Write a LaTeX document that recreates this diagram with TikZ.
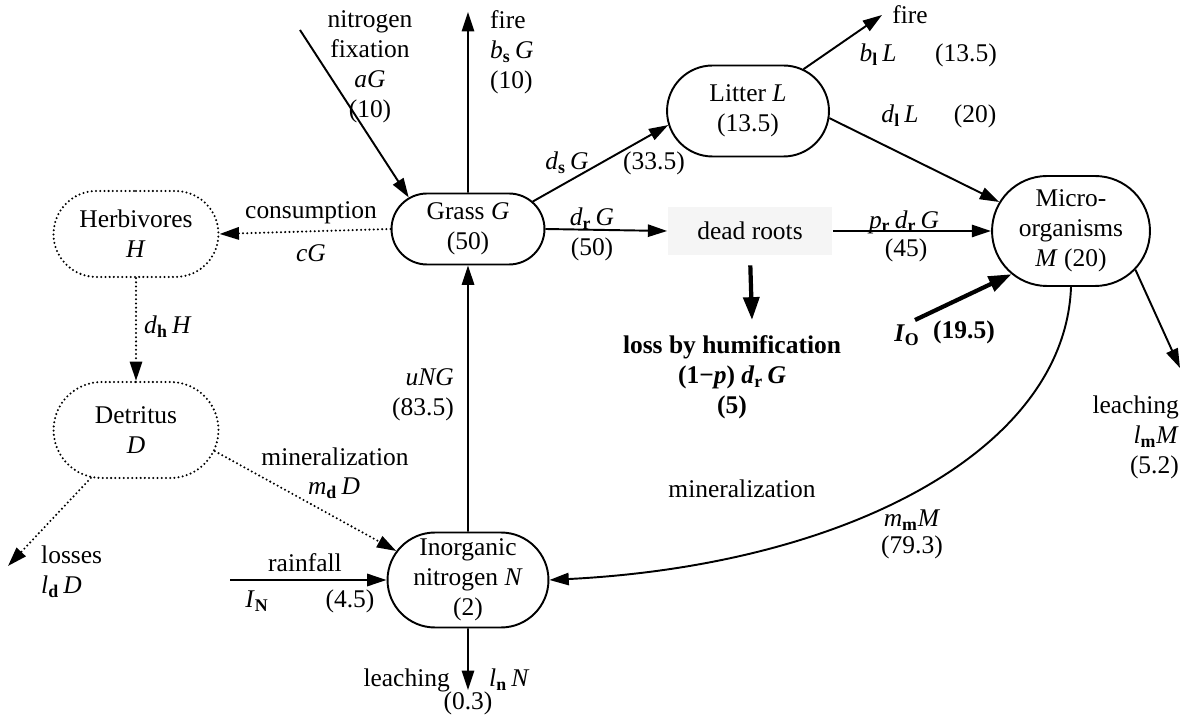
\documentclass[tikz,border=0pt]{standalone}
\usepackage{fontspec}
\setmainfont{Liberation Serif}
\usetikzlibrary{arrows.meta,shapes.misc}

\newcommand{\nsub}[1]{\textsubscript{\textbf{#1}}}

\tikzset{
  pool/.style={rounded rectangle, line width=1.1pt, draw, align=center, inner sep=2pt},
  dpool/.style={rounded rectangle, line width=1.3pt, draw, dash pattern=on 0pt off 2.4pt, line cap=round, align=center, inner sep=2pt},
  flow/.style={line width=1.1pt, -{Triangle[length=11pt,width=7pt]}},
  flowdot/.style={line width=1.3pt, dash pattern=on 0pt off 2.4pt, line cap=round, -{Triangle[length=11pt,width=7pt]}},
  flowbold/.style={line width=2.4pt, -{Triangle[length=13pt,width=9pt]}},
  lblbf/.style={align=center, font=\fontsize{14.5}{17}\selectfont\bfseries}
}

\begin{document}
\begin{tikzpicture}[x=0.02cm, y=-0.02cm, font=\fontsize{14.5}{17}\selectfont]
\useasboundingbox (0, 0) rectangle (1189, 715);

% pools
\node at (468, 229) [pool, minimum width=3.2cm, minimum height=1.42cm] (grass) {Grass \textit{G}\\(50)};
\node at (748, 111) [pool, minimum width=3.38cm, minimum height=1.82cm] (litter) {Litter \textit{L}\\(13.5)};
\node at (1071, 231) [pool, minimum width=3.3cm, minimum height=2.2cm] (micro) {Micro-\\organisms\\\textit{M} (20)};
\node at (468, 580) [pool, minimum width=3.36cm, minimum height=1.9cm] (inorg) {Inorganic\\nitrogen \textit{N}\\(2)};
\node at (136, 234) [dpool, minimum width=3.44cm, minimum height=1.72cm] (herb) {Herbivores\\\textit{H}};
\node at (136, 430) [dpool, minimum width=3.44cm, minimum height=1.92cm] (detr) {Detritus\\\textit{D}};
\node at (750, 231) [fill=black!4, minimum width=3.3cm, minimum height=0.96cm] (roots) {dead roots};

% free ends
\coordinate (fix) at (300, 30);
\coordinate (gfire) at (468, 12);
\coordinate (lfire) at (882, 15);
\coordinate (hum) at (752, 320);
\coordinate (io) at (915, 320);
\coordinate (mleach) at (1180, 368);
\coordinate (loss) at (8, 566);
\coordinate (rain) at (230, 580);
\coordinate (nleach) at (468, 690);

% flows
\draw[flow] (fix) -- (grass.152);
\draw[flow] (grass) -- (gfire);
\draw[flow] (grass.23) -- (litter.190);
\draw[flow] (litter.37) -- (lfire);
\draw[flow] (litter.-5) -- (micro.158);
\draw[flowdot] (grass.west) -- (herb.east);
\draw[flow] (grass.east) -- (roots.west);
\draw[flow] (roots.east) -- (micro.west);
\draw[flowbold, shorten <=0.2cm] (roots.south) -- (hum);
\draw[flowbold] (io) -- (micro.216);
\draw[flow] (micro.329) -- (mleach);
\draw[flow] (micro.south) .. controls +(-6, 163) and +(297, -15) .. (inorg.east);
\draw[flowdot] (herb) -- (detr);
\draw[flowdot] (detr) -- (loss);
\draw[flowdot] (detr.345) -- (inorg.158);
\draw[flow] (rain) -- (inorg);
\draw[flow] (inorg) -- (grass);
\draw[flow] (inorg) -- (nleach);

% labels
\node at (370, 67) [align=center] (fixlbl) {nitrogen\\fixation\\\textit{aG}\\(10)};
\node at (484, 52) [anchor=west, align=left] (gfirelbl) {fire\\\textit{b}\nsub{s}\,\textit{G}\\(10)};
\node at (567, 163) (dslbl) {\textit{d}\nsub{s}\,\textit{G}};
\node at (654, 163) (dsval) {(33.5)};
\node at (910, 15) (lfirelbl) {fire};
\node at (878, 55) (bllbl) {\textit{b}\nsub{l}\,\textit{L}};
\node at (966, 55) (blval) {(13.5)};
\node at (900, 116) (dllbl) {\textit{d}\nsub{l}\,\textit{L}};
\node at (975, 116) (dlval) {(20)};
\node at (311, 213) (conslbl) {consumption};
\node at (311, 253) (cglbl) {\textit{cG}};
\node at (592, 219) (drlbl) {\textit{d}\nsub{r}\,\textit{G}};
\node at (592, 249) (drval) {(50)};
\node at (904, 222) (prlbl) {\textit{p}\nsub{r}\,\textit{d}\nsub{r}\,\textit{G}};
\node at (906, 250) (prval) {(45)};
\node at (732, 377) [lblbf] (humlbl) {loss by humification\\(1−\textit{p}) \textit{d}\nsub{r}\,\textit{G}\\(5)};
\node at (907, 335) (iolbl) {\textbf{\textit{I}\nsub{O}}};
\node at (964, 332) (ioval) {\textbf{(19.5)}};
\node at (1185, 390) [anchor=north east, align=right] (mleachlbl) {leaching\\\textit{l}\nsub{m}\textit{M}\\(5.2)};
\node at (742, 489) (minlbl) {mineralization};
\node at (912, 520) (mmlbl) {\textit{m}\nsub{m}\textit{M}};
\node at (912, 547) (mmval) {(79.3)};
\node at (138, 327) [anchor=west] (dhlbl) {\textit{d}\nsub{h}\,\textit{H}};
\node at (335, 457) (mdtxt) {mineralization};
\node at (334, 488) (mdlbl) {\textit{m}\nsub{d}\,\textit{D}};
\node at (35, 572) [anchor=west, align=left] (losslbl) {losses\\\textit{l}\nsub{d}\,\textit{D}};
\node at (305, 563) (rainlbl) {rainfall};
\node at (257, 601) (inlbl) {\textit{I}\nsub{N}};
\node at (350, 601) (rainval) {(4.5)};
\node at (460, 395) [anchor=east, align=right] (unglbl) {\textit{uNG}\\(83.5)};
\node at (456, 680) [anchor=east] (nleachlbl) {leaching};
\node at (483, 680) [anchor=west] (lnlbl) {\textit{l}\nsub{n}\,\textit{N}};
\node at (468, 703) (lnval) {(0.3)};
\end{tikzpicture}
\end{document}
